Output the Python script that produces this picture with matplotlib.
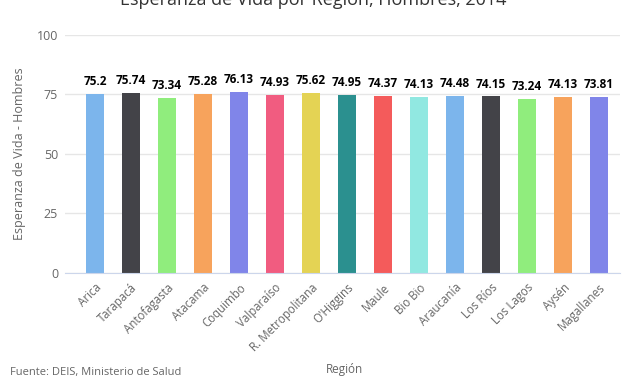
import numpy as np
import matplotlib.pyplot as plt

plt.rcParams['font.family'] = ['Open Sans', 'DejaVu Sans']

regiones = ["Arica", "Tarapacá", "Antofagasta", "Atacama", "Coquimbo", "Valparaíso",
            "R. Metropolitana", "O'Higgins", "Maule", "Bio Bio", "Araucanía",
            "Los Ríos", "Los Lagos", "Aysén", "Magallanes"]
esperanza = [75.2, 75.74, 73.34, 75.28, 76.13, 74.93, 75.62, 74.95, 74.37,
             74.13, 74.48, 74.15, 73.24, 74.13, 73.81]
y_ticks = [0, 25, 50, 75, 100]

palette = ["#7cb5ec", "#434348", "#90ed7d", "#f7a35c", "#8085e9", "#f15c80",
           "#e4d354", "#2b908f", "#f45b5b", "#91e8e1"]
colors = [palette[i % len(palette)] for i in range(len(regiones))]

fig = plt.figure(figsize=(6.27, 3.76), dpi=100)
ax = fig.add_axes([65 / 627, 0.274, 555 / 627, 0.633])

x = np.arange(len(regiones))
ax.bar(x, esperanza, width=0.5, color=colors, zorder=2)

# etiquetas de valor sobre cada barra
for xi, v in zip(x, esperanza):
    ax.text(xi, v + 2.5, f"{v:g}", ha="center", va="bottom",
            fontsize=8.5, fontweight="bold", color="#000000")

ax.set_xlim(-0.83, len(regiones) - 1 + 0.58)
ax.set_ylim(0, 100)
ax.set_yticks(y_ticks)
ax.set_yticklabels([str(t) for t in y_ticks], color="#666666", fontsize=9)
ax.set_xticks(x)
ax.set_xticklabels(regiones, rotation=45, ha="right", rotation_mode="anchor",
                   color="#666666", fontsize=8.3)
ax.tick_params(axis="x", length=0, pad=6)
ax.tick_params(axis="y", length=0, pad=5)

ax.grid(axis="y", color="#e6e6e6", linewidth=1, zorder=0)
for s in ["top", "right", "left"]:
    ax.spines[s].set_visible(False)
ax.spines["bottom"].set_color("#ccd6eb")

ax.set_ylabel("Esperanza de Vida - Hombres", color="#666666", fontsize=9, labelpad=8)

fig.text(0.5, 1.0, "Esperanza de Vida por Región, Hombres, 2014", ha="center", va="center",
         fontsize=13, color="#333333")
fig.text(0.55, 0.018, "Región", ha="center", va="center", fontsize=8.5, color="#666666")
fig.text(0.016, 0.008, "Fuente: DEIS, Ministerio de Salud", ha="left", va="center",
         fontsize=8, color="#666666")

fig.savefig("out.png", dpi=100)
